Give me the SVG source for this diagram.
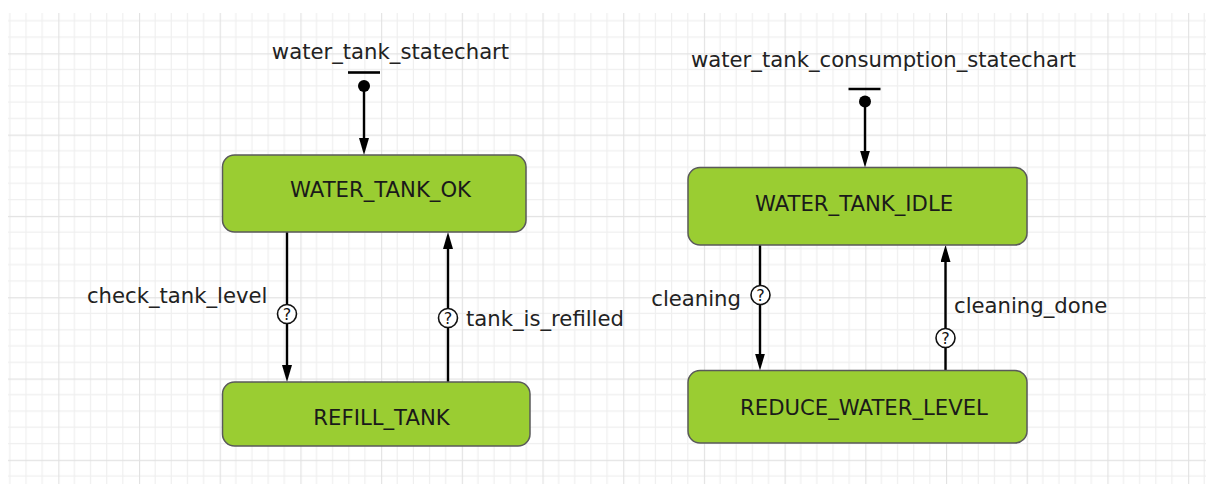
<svg xmlns="http://www.w3.org/2000/svg" width="1206" height="484" viewBox="0 0 1206 484">
<style>
.node{fill:#9acd32;stroke:#5a5a5a;stroke-width:1.5}
.ntext{font-family:"DejaVu Sans","Liberation Sans",sans-serif;font-size:21.2px;fill:#1a1a1a;text-anchor:middle}
.label{font-family:"DejaVu Sans","Liberation Sans",sans-serif;font-size:21.2px;fill:#222}
.edge{stroke:#000;stroke-width:2.4;fill:none}
.guard{fill:#fff;stroke:#111;stroke-width:1.6}
.q{font-family:"DejaVu Sans","Liberation Sans",sans-serif;font-size:16px;fill:#111;text-anchor:middle}
</style>
<defs>
<pattern id="grid" patternUnits="userSpaceOnUse" x="58.3" y="53.3" width="80.7" height="81.3">
<path d="M16.14 0V81.3M32.28 0V81.3M48.42 0V81.3M64.56 0V81.3M0 16.26H80.7M0 32.52H80.7M0 48.78H80.7M0 65.04H80.7" stroke="#efefef" stroke-width="1.2"/>
<path d="M0.5 0V81.3M0 0.5H80.7" stroke="#e2e2e2" stroke-width="1.3"/>
</pattern>
<marker id="arrow" markerUnits="userSpaceOnUse" viewBox="0 0 17 10" markerWidth="17" markerHeight="10" refX="7" refY="5" orient="auto">
<path d="M0 0L17 5L0 10Z" fill="#000"/>
</marker>
</defs>
<rect x="0" y="0" width="1206" height="484" fill="#fff"/>
<rect x="8" y="13" width="1198" height="471" fill="url(#grid)"/>

<g id="connectors">
<g id="init1">
<line x1="348" y1="72.5" x2="380" y2="72.5" stroke="#000" stroke-width="2.6"/>
<circle cx="364" cy="86" r="6" fill="#000"/>
<line class="edge" x1="364" y1="86" x2="364" y2="145" marker-end="url(#arrow)"/>
</g>
<g id="init2">
<line x1="848.5" y1="89" x2="880.5" y2="89" stroke="#000" stroke-width="2.6"/>
<circle cx="865" cy="101.5" r="6" fill="#000"/>
<line class="edge" x1="865" y1="101.5" x2="865" y2="157.5" marker-end="url(#arrow)"/>
</g>
<g id="t_check_tank_level">
<line class="edge" x1="287" y1="232" x2="287" y2="372" marker-end="url(#arrow)"/>
<circle class="guard" cx="287" cy="314" r="9.5"/>
<text class="q" x="287" y="319.8">?</text>
<text class="label" x="267.5" y="303" text-anchor="end">check_tank_level</text>
</g>
<g id="t_tank_is_refilled">
<line class="edge" x1="448" y1="382" x2="448" y2="242" marker-end="url(#arrow)"/>
<circle class="guard" cx="448" cy="318" r="9.5"/>
<text class="q" x="448" y="323.8">?</text>
<text class="label" x="466" y="326">tank_is_refilled</text>
</g>
<g id="t_cleaning">
<line class="edge" x1="760" y1="245" x2="760" y2="360.5" marker-end="url(#arrow)"/>
<circle class="guard" cx="760.5" cy="295" r="9.5"/>
<text class="q" x="760.5" y="300.8">?</text>
<text class="label" x="741" y="306" text-anchor="end">cleaning</text>
</g>
<g id="t_cleaning_done">
<line class="edge" x1="945.5" y1="370.5" x2="945.5" y2="255" marker-end="url(#arrow)"/>
<circle class="guard" cx="945.5" cy="338" r="9.5"/>
<text class="q" x="945.5" y="343.8">?</text>
<text class="label" x="954" y="312.5">cleaning_done</text>
</g>
</g>

<g id="chart_labels">
<text class="label" x="390.5" y="59" text-anchor="middle">water_tank_statechart</text>
<text class="label" x="883.5" y="67" text-anchor="middle">water_tank_consumption_statechart</text>
</g>

<g id="WATER_TANK_OK">
<rect class="node" x="222.5" y="155" width="303.5" height="77" rx="12"/>
<text class="ntext" x="380.5" y="197">WATER_TANK_OK</text>
</g>
<g id="REFILL_TANK">
<rect class="node" x="222.5" y="382" width="307.5" height="64" rx="12"/>
<text class="ntext" x="381.5" y="425">REFILL_TANK</text>
</g>
<g id="WATER_TANK_IDLE">
<rect class="node" x="688" y="167.5" width="339" height="77.5" rx="12"/>
<text class="ntext" x="854" y="211">WATER_TANK_IDLE</text>
</g>
<g id="REDUCE_WATER_LEVEL">
<rect class="node" x="688" y="370.5" width="339" height="72.5" rx="12"/>
<text class="ntext" x="864" y="415">REDUCE_WATER_LEVEL</text>
</g>
</svg>
